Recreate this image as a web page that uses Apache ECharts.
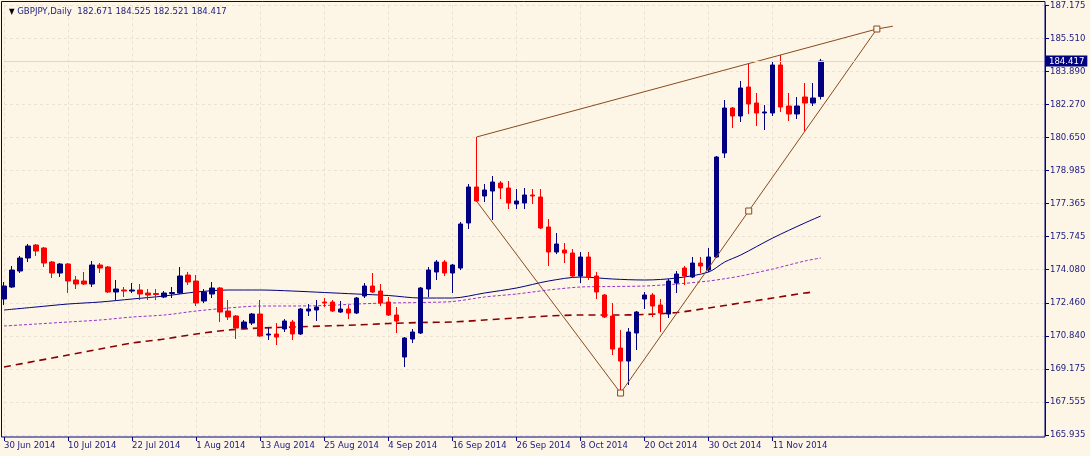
<!DOCTYPE html>
<html>
<head>
<meta charset="utf-8">
<script src="https://cdn.jsdelivr.net/npm/echarts@6/dist/echarts.min.js"></script>
<style>
html,body{margin:0;padding:0;background:#FDF5E6;}
#chart{width:1090px;height:456px;}
</style>
</head>
<body>
<div id="chart"></div>
<script>
// ---- Data (GBPJPY, Daily) ----
const symbolTitle = 'GBPJPY,Daily';
const lastQuote = ['182.671', '184.525', '182.521', '184.417'];
const lastPrice = 184.417;

// x tick labels every 8 bars starting from bar 0
const xTickLabels = ['30 Jun 2014','10 Jul 2014','22 Jul 2014','1 Aug 2014','13 Aug 2014','25 Aug 2014',
  '4 Sep 2014','16 Sep 2014','26 Sep 2014','8 Oct 2014','20 Oct 2014','30 Oct 2014','11 Nov 2014'];
const yTickLabels = ['165.935','167.555','169.175','170.840','172.460','174.080','175.745',
  '177.365','178.985','180.650','182.270','183.890','185.510','187.175'];

const open = [172.657,173.250,174.041,174.684,175.326,175.178,174.486,173.942,174.387,173.596,
  173.547,173.398,174.337,174.239,173.003,173.102,173.052,173.102,172.953,172.929,
  172.756,172.929,172.953,173.843,173.547,172.558,172.904,173.201,172.064,171.817,
  171.224,171.470,171.915,170.877,170.927,171.174,171.520,170.927,172.064,172.113,
  172.508,172.508,172.014,172.163,171.965,172.805,173.299,173.052,172.508,171.866,
  169.789,170.679,170.976,173.151,173.992,174.486,173.942,174.189,176.414,178.193,
  177.748,177.995,178.391,178.144,177.353,177.402,177.798,177.699,176.216,174.980,
  175.079,174.931,173.794,174.733,173.794,172.854,171.817,170.234,169.591,170.976,
  172.657,172.854,172.360,171.915,173.448,174.189,173.744,174.436,174.090,174.733,
  179.874,182.098,181.703,183.136,182.345,181.852,181.852,184.224,182.197,181.802,
  182.642,182.345,182.671];
const high = [173.497,174.288,174.782,175.376,175.376,175.227,174.535,174.436,174.436,173.794,
  173.992,174.535,174.436,174.288,173.596,173.250,173.448,173.398,173.151,173.151,
  173.052,173.250,174.239,173.992,173.843,173.151,173.497,173.250,172.607,171.866,
  171.619,171.965,172.607,171.224,171.470,171.668,171.619,172.212,172.410,172.607,
  172.706,172.607,172.558,172.360,172.756,173.448,173.942,173.398,172.756,172.261,
  170.778,171.174,173.250,174.239,174.585,174.585,174.387,176.463,178.341,180.665,
  178.341,178.737,178.490,178.490,178.094,178.144,178.094,178.094,176.611,175.919,
  175.425,175.128,174.980,174.980,173.992,172.904,172.459,171.124,171.224,172.064,
  173.003,172.953,172.657,173.646,174.041,174.288,174.733,174.733,175.178,179.725,
  182.494,182.148,183.433,184.323,182.840,182.247,184.372,184.718,182.840,182.642,
  183.334,183.334,184.525];
const low = [172.360,173.200,173.942,174.486,174.782,174.239,173.695,173.744,172.953,173.151,
  173.349,173.250,173.942,172.953,172.607,172.756,172.953,172.607,172.607,172.607,
  172.706,172.706,172.904,173.349,172.310,172.459,172.706,171.520,171.619,170.679,
  171.174,171.371,170.778,170.630,170.383,171.026,170.630,170.877,171.817,171.569,
  172.261,172.014,171.965,171.668,171.915,172.706,172.953,172.310,171.817,170.976,
  169.295,170.482,170.927,172.756,173.596,173.794,172.953,174.090,176.117,177.451,
  177.451,176.562,177.600,177.106,177.106,177.106,177.353,176.117,174.288,174.881,
  174.436,173.695,173.448,173.596,172.657,171.718,169.888,168.010,168.406,170.136,
  172.163,171.767,171.026,171.718,172.953,173.349,173.695,173.942,173.992,174.683,
  179.627,181.110,181.406,181.802,181.209,181.011,181.703,181.901,181.456,181.555,
  180.961,182.197,182.521];
const close = [173.299,174.090,174.684,175.277,175.030,174.436,173.942,174.387,173.547,173.398,
  173.398,174.337,174.189,173.003,173.151,173.052,173.102,172.904,172.854,172.879,
  172.953,172.978,173.794,173.497,172.459,173.003,173.201,172.014,171.767,171.224,
  171.520,171.915,170.828,170.927,170.778,171.569,170.927,172.163,172.163,172.261,
  172.459,172.064,172.163,171.965,172.706,173.299,173.003,172.459,171.866,171.569,
  170.729,171.026,173.201,174.090,174.486,173.942,174.337,176.364,178.193,177.501,
  178.045,178.440,178.144,177.402,177.501,177.798,177.748,176.167,174.980,175.376,
  174.931,173.794,174.733,173.744,173.003,171.767,170.185,169.591,171.026,172.014,
  172.854,172.310,171.965,173.547,173.893,173.794,174.436,174.288,174.733,179.676,
  182.098,181.703,183.087,182.296,181.852,181.901,184.224,182.148,181.802,182.197,
  182.345,182.593,184.417];

// moving averages read at these bars
const maBars = [0,4,8,12,16,20,24,28,32,36,40,44,48,52,56,60,64,68,72,76,80,84,88,90,92,96,100,102];
const maFast = [172.113,172.261,172.410,172.508,172.657,172.805,173.003,173.102,173.102,173.052,
  172.978,172.904,172.830,172.706,172.706,172.953,173.201,173.547,173.744,173.646,173.596,173.695,
  173.992,174.486,174.832,175.672,176.414,176.760];
const maMid = [171.322,171.421,171.520,171.619,171.767,171.866,172.064,172.212,172.311,172.311,
  172.335,172.410,172.459,172.484,172.533,172.756,172.904,173.102,173.250,173.275,173.300,173.398,
  173.547,173.660,173.794,174.140,174.535,174.684];
const maSlowBars = [0,4,8,12,16,20,24,28,32,36,40,44,48,52,56,60,64,68,72,76,80,84,88,92,96,100,101];
const maSlow = [169.296,169.592,169.888,170.185,170.481,170.679,170.927,171.124,171.223,171.273,
  171.322,171.372,171.446,171.495,171.520,171.619,171.718,171.817,171.866,171.866,171.891,171.990,
  172.212,172.459,172.706,172.953,173.003];

// drawn pattern lines
const zigBars = [59, 77, 93, 109];
const zigVals = [177.501, 168.010, 177.007, 186.003];
const topBars = [59, 109, 111];
const topVals = [180.665, 186.003, 186.140];

const slotCount = 131; // bars + empty space to the right

// ---- Chart ----
const NAVY = '#000080', RED = '#FF0000', BROWN = '#8B4A1C';
const FONT = 'Tahoma, "DejaVu Sans Condensed", "DejaVu Sans", sans-serif';
const cats = Array.from({length: slotCount}, (_, i) => String(i));
const candles = open.map((o, i) => [o, close[i], low[i], high[i]]);
const yMin = 165.935, yMax = 187.175, yStep = (yMax - yMin) / 13;
const showTick = (idx) => idx % 8 === 0 && idx / 8 < xTickLabels.length;

const chart = echarts.init(document.getElementById('chart'), null, {renderer: 'canvas'});
chart.setOption({
  animation: false,
  backgroundColor: '#FDF5E6',
  textStyle: {fontFamily: FONT},
  title: {
    text: '{tri|▼} ' + symbolTitle + '  ' + lastQuote.join(' '),
    left: 4, top: 2,
    textStyle: {fontSize: 9.5, fontWeight: 'normal', color: '#1A1A80', fontFamily: FONT,
      rich: {tri: {fontSize: 8, color: '#000000', fontFamily: FONT}}}
  },
  grid: {left: 4, right: 45, top: 5.3, bottom: 21, show: false},
  xAxis: {
    type: 'category', data: cats, boundaryGap: false, offset: 2,
    axisLine: {show: false},
    axisTick: {show: true, interval: (i) => showTick(i), length: 4, lineStyle: {color: NAVY}},
    axisLabel: {interval: (i) => showTick(i), formatter: (v, i) => xTickLabels[Math.round(Number(v) / 8)] || '',
      align: 'left', margin: 4, fontSize: 9.5, color: '#1A1A80', fontFamily: FONT},
    splitLine: {show: true, interval: (i) => showTick(i), lineStyle: {color: '#EAE2D2', type: [3, 3], width: 1}}
  },
  yAxis: {
    type: 'value', position: 'right', min: yMin, max: yMax, interval: yStep, scale: true,
    axisLine: {show: true, lineStyle: {color: NAVY}},
    axisTick: {show: true, length: 4, lineStyle: {color: NAVY}},
    axisLabel: {margin: 5, fontSize: 9.5, color: '#1A1A80', fontFamily: FONT,
      formatter: (v) => yTickLabels[Math.round((v - yMin) / yStep)] || ''},
    splitLine: {show: true, lineStyle: {color: '#EAE2D2', type: [3, 3], width: 1}}
  },
  series: [
    {
      type: 'candlestick', data: candles, barWidth: 5, clip: false,
      itemStyle: {color: NAVY, color0: RED, borderColor: NAVY, borderColor0: RED, borderWidth: 1},
      markLine: {
        silent: true, symbol: ['none', 'none'], animation: false,
        lineStyle: {color: '#D8D8D8', type: 'solid', width: 1},
        label: {show: true, position: 'end', formatter: lastPrice.toFixed(3), distance: 1,
          backgroundColor: NAVY, color: '#FFFFFF', padding: [1, 3, 0, 3], fontSize: 9.5, fontFamily: FONT},
        data: [{yAxis: lastPrice}]
      },
      z: 3
    },
    {
      type: 'line', data: maBars.map((b, k) => [b, maFast[k]]), showSymbol: false, smooth: 0.3,
      lineStyle: {color: NAVY, width: 1}, z: 2
    },
    {
      type: 'line', data: maBars.map((b, k) => [b, maMid[k]]), showSymbol: false, smooth: 0.3,
      lineStyle: {color: '#9932CC', width: 1, type: [3, 2]}, z: 2
    },
    {
      type: 'line', data: maSlowBars.map((b, k) => [b, maSlow[k]]), showSymbol: false, smooth: 0.3,
      lineStyle: {color: '#8B0000', width: 1.6, type: [7, 5]}, z: 2
    },
    {
      type: 'line', data: topBars.map((b, k) => [b, topVals[k]]), showSymbol: false,
      lineStyle: {color: BROWN, width: 1}, z: 4
    },
    {
      type: 'line',
      data: zigBars.map((b, k) => ({value: [b, zigVals[k]], symbol: k === 0 ? 'none' : 'rect'})),
      showSymbol: true, showAllSymbol: true, symbolSize: 6,
      itemStyle: {color: '#FDF5E6', borderColor: BROWN, borderWidth: 1},
      lineStyle: {color: BROWN, width: 1}, z: 4
    }
  ],
  graphic: [{
    type: 'rect', silent: true, z: 100,
    shape: {x: 1.5, y: 1.5, width: 1043.5, height: 435.5},
    style: {fill: null, stroke: NAVY, lineWidth: 1}
  }]
});
</script>
</body>
</html>
